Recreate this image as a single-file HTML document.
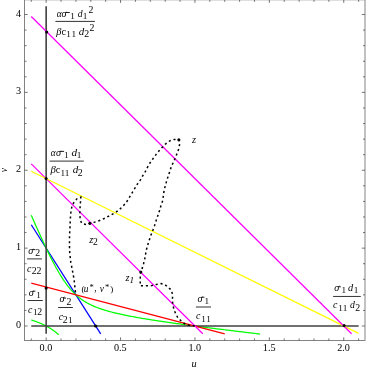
<!DOCTYPE html>
<html><head><meta charset="utf-8"><title>plot</title>
<style>html,body{margin:0;padding:0;background:#fff;}svg{display:block;will-change:transform;}text{font-family:"Liberation Serif",serif;fill:#000;}.i{font-style:italic;}</style></head><body>
<svg width="366" height="371" viewBox="0 0 366 371">
<rect x="0" y="0" width="366" height="371" fill="#fff"/>
<line x1="31.27" y1="224.77" x2="100.71" y2="333.79" stroke="#0000ff" stroke-width="1.25"/>
<polyline fill="none" stroke="#00ff00" stroke-width="1.25" points="31.27,215.22 32.41,217.84 33.56,220.45 34.70,223.05 35.84,225.64 36.99,228.21 38.13,230.76 39.27,233.30 40.42,235.82 41.56,238.32 42.71,240.80 43.85,243.26 44.99,245.69 46.14,248.10 47.28,250.48 48.42,252.83 49.57,255.15 50.71,257.43 51.85,259.68 53.00,261.89 54.14,264.06 55.28,266.19 56.43,268.27 57.57,270.30 58.71,272.28 59.86,274.21 61.00,276.08 62.15,277.89 63.29,279.64 64.43,281.34 65.58,282.97 66.72,284.53 67.86,286.03 69.01,287.47 70.15,288.85 71.29,290.16 72.44,291.41 73.58,292.60 74.72,293.74 75.87,294.81 77.01,295.84 78.15,296.81 79.30,297.73 80.44,298.60 81.59,299.44 82.73,300.23 83.87,300.98 85.02,301.69 86.16,302.37 87.30,303.02 88.45,303.64 89.59,304.23 90.73,304.79 91.88,305.33 93.02,305.85 94.16,306.34 95.31,306.82 96.45,307.28 97.59,307.72 98.74,308.14 99.88,308.55 101.03,308.95 102.17,309.33 103.31,309.70 104.46,310.06 105.60,310.40 106.74,310.74 107.89,311.07 109.03,311.39 110.17,311.70 111.32,312.00 112.46,312.30 113.60,312.59 114.75,312.87 115.89,313.15 117.03,313.42 118.18,313.68 119.32,313.94 120.47,314.19 121.61,314.44 122.75,314.69 123.90,314.93 125.04,315.16 126.18,315.40 127.33,315.63 128.47,315.85 129.61,316.07 130.76,316.29 131.90,316.51 133.04,316.72 134.19,316.93 135.33,317.14 136.47,317.35 137.62,317.55 138.76,317.75 139.91,317.95 141.05,318.14 142.19,318.34 143.34,318.53 144.48,318.72 145.62,318.91 146.77,319.10 147.91,319.28 149.05,319.46 150.20,319.65 151.34,319.83 152.48,320.01 153.63,320.19 154.77,320.36 155.91,320.54 157.06,320.71 158.20,320.88 159.35,321.06 160.49,321.23 161.63,321.40 162.78,321.57 163.92,321.73 165.06,321.90 166.21,322.07 167.35,322.23 168.49,322.39 169.64,322.56 170.78,322.72 171.92,322.88 173.07,323.04 174.21,323.20 175.35,323.36 176.50,323.52 177.64,323.68 178.79,323.84 179.93,323.99 181.07,324.15 182.22,324.30 183.36,324.46 184.50,324.61 185.65,324.77 186.79,324.92 187.93,325.07 189.08,325.23 190.22,325.38 191.36,325.53 192.51,325.68 193.65,325.83 194.79,325.98 195.94,326.13 197.08,326.28 198.23,326.43 199.37,326.57 200.51,326.72 201.66,326.87 202.80,327.02 203.94,327.16 205.09,327.31 206.23,327.46 207.37,327.60 208.52,327.75 209.66,327.89 210.80,328.04 211.95,328.18 213.09,328.33 214.23,328.47 215.38,328.61 216.52,328.76 217.67,328.90 218.81,329.04 219.95,329.18 221.10,329.33 222.24,329.47 223.38,329.61 224.53,329.75 225.67,329.89 226.81,330.03 227.96,330.17 229.10,330.32 230.24,330.46 231.39,330.60 232.53,330.74 233.67,330.88 234.82,331.01 235.96,331.15 237.11,331.29 238.25,331.43 239.39,331.57 240.54,331.71 241.68,331.85 242.82,331.99 243.97,332.12 245.11,332.26 246.25,332.40 247.40,332.54 248.54,332.67 249.68,332.81 250.83,332.95 251.97,333.09 253.11,333.22 254.26,333.36 255.40,333.50 256.55,333.63 257.69,333.77 258.83,333.90 259.98,334.04"/>
<polyline fill="none" stroke="#00ff00" stroke-width="1.25" points="31.27,319.98 31.41,320.02 31.54,320.07 31.68,320.11 31.82,320.15 31.95,320.20 32.09,320.24 32.23,320.29 32.37,320.33 32.50,320.38 32.64,320.42 32.78,320.47 32.91,320.51 33.05,320.56 33.19,320.60 33.32,320.65 33.46,320.69 33.60,320.74 33.73,320.79 33.87,320.83 34.01,320.88 34.14,320.93 34.28,320.97 34.42,321.02 34.56,321.07 34.69,321.12 34.83,321.16 34.97,321.21 35.10,321.26 35.24,321.31 35.38,321.36 35.51,321.41 35.65,321.46 35.79,321.51 35.92,321.55 36.06,321.60 36.20,321.65 36.34,321.70 36.47,321.75 36.61,321.81 36.75,321.86 36.88,321.91 37.02,321.96 37.16,322.01 37.29,322.06 37.43,322.11 37.57,322.17 37.70,322.22 37.84,322.27 37.98,322.32 38.11,322.38 38.25,322.43 38.39,322.48 38.53,322.54 38.66,322.59 38.80,322.65 38.94,322.70 39.07,322.76 39.21,322.81 39.35,322.87 39.48,322.92 39.62,322.98 39.76,323.03 39.89,323.09 40.03,323.15 40.17,323.21 40.31,323.26 40.44,323.32 40.58,323.38 40.72,323.44 40.85,323.49 40.99,323.55 41.13,323.61 41.26,323.67 41.40,323.73 41.54,323.79 41.67,323.85 41.81,323.91 41.95,323.97 42.08,324.03 42.22,324.09 42.36,324.16 42.50,324.22 42.63,324.28 42.77,324.34 42.91,324.41 43.04,324.47 43.18,324.53 43.32,324.60 43.45,324.66 43.59,324.73 43.73,324.79 43.86,324.86 44.00,324.92 44.14,324.99 44.28,325.05 44.41,325.12 44.55,325.19 44.69,325.26 44.82,325.32 44.96,325.39 45.10,325.46 45.23,325.53 45.37,325.60 45.51,325.67 45.64,325.74 45.78,325.81 45.92,325.88 46.05,325.95 46.19,326.02 46.33,326.09 46.47,326.17 46.60,326.24 46.74,326.31 46.88,326.39 47.01,326.46 47.15,326.53 47.29,326.61 47.42,326.68 47.56,326.76 47.70,326.84 47.83,326.91 47.97,326.99 48.11,327.07 48.25,327.14 48.38,327.22 48.52,327.30 48.66,327.38 48.79,327.46 48.93,327.54 49.07,327.62 49.20,327.70 49.34,327.78 49.48,327.87 49.61,327.95 49.75,328.03 49.89,328.12 50.02,328.20 50.16,328.28 50.30,328.37 50.44,328.45 50.57,328.54 50.71,328.63 50.85,328.71 50.98,328.80 51.12,328.89 51.26,328.98 51.39,329.07 51.53,329.16 51.67,329.25 51.80,329.34 51.94,329.43 52.08,329.52 52.22,329.61 52.35,329.71 52.49,329.80 52.63,329.89 52.76,329.99 52.90,330.08 53.04,330.18 53.17,330.28 53.31,330.37 53.45,330.47 53.58,330.57 53.72,330.67 53.86,330.77 53.99,330.87 54.13,330.97 54.27,331.07 54.41,331.17 54.54,331.27 54.68,331.38 54.82,331.48 54.95,331.59 55.09,331.69 55.23,331.80 55.36,331.90 55.50,332.01 55.64,332.12 55.77,332.23 55.91,332.34 56.05,332.45 56.19,332.56 56.32,332.67 56.46,332.78 56.60,332.89 56.73,333.01 56.87,333.12 57.01,333.23 57.14,333.35 57.28,333.47 57.42,333.58 57.55,333.70 57.69,333.82 57.83,333.94 57.96,334.06 58.10,334.18 58.24,334.30 58.38,334.42 58.51,334.54 58.65,334.67"/>
<line x1="46.15" y1="6.30" x2="46.15" y2="333.80" stroke="#404040" stroke-width="1.6"/>
<line x1="31.27" y1="326.00" x2="358.63" y2="326.00" stroke="#404040" stroke-width="1.6"/>
<line x1="31.27" y1="283.17" x2="224.71" y2="333.79" stroke="#ff0000" stroke-width="1.25"/>
<line x1="31.27" y1="163.85" x2="202.81" y2="333.79" stroke="#ff00ff" stroke-width="1.25"/>
<line x1="31.27" y1="171.22" x2="358.63" y2="333.37" stroke="#ffff00" stroke-width="1.25"/>
<line x1="31.27" y1="16.44" x2="351.61" y2="333.79" stroke="#ff00ff" stroke-width="1.25"/>
<polyline fill="none" stroke="#000" stroke-width="1.5" stroke-dasharray="2.1 2.85" points="194.8,325.7 190.3,325.6 185.5,324.4 181.8,321.4 178.2,318.3 175.8,314.1 173.9,309.2 172.7,304.4 172.5,300.2 172.5,294.7 171.5,290.2 168.0,287.2 165.0,284.7 161.1,283.6 156.2,284.5 151.9,285.6 146.0,285.8 140.3,285.8 140.2,280.0 140.3,276.0 140.8,272.0 142.3,268.1 143.6,263.5 144.7,259.0 145.5,254.6 146.4,249.8 147.7,244.9 149.3,240.1 150.9,235.2 152.8,230.4 154.6,225.5 156.1,220.7 157.8,215.8 159.6,210.3 161.0,205.5 162.7,200.7 163.4,195.5 164.1,190.5 165.3,185.7 166.7,180.9 168.2,176.1 169.8,171.4 171.4,166.2 173.5,162.1 175.2,158.0 177.2,153.2 178.9,148.4 179.7,143.7 178.9,139.8 174.2,139.4 170.1,140.7 166.2,143.4 162.5,147.1 159.1,150.8 156.0,154.6 153.0,158.7 149.8,163.2 147.3,167.6 145.0,172.1 142.5,176.2 140.3,180.1 137.2,184.3 134.8,188.4 132.1,192.9 129.4,197.3 126.7,201.8 123.2,205.9 119.6,209.4 115.7,212.4 111.6,214.7 107.2,217.0 102.8,219.2 98.3,221.0 93.9,222.4 90.0,223.3 85.9,224.5 81.8,223.4 80.2,219.6 79.9,214.8 79.9,209.9 80.2,205.1 80.6,200.6 80.8,197.2 77.2,198.6 74.2,201.8 72.1,205.9 71.0,210.7 70.5,216.4 70.2,222.1 70.0,227.0 69.7,232.1 69.5,237.1 69.5,242.2 69.5,247.2 69.7,252.3 70.2,257.3 70.8,262.4 71.8,267.4 72.8,272.5 73.8,277.9 74.6,283.6 75.0,288.6 75.8,294.6"/>
<circle cx="46.70" cy="32.00" r="1.55" fill="#000"/>
<circle cx="46.10" cy="178.50" r="1.55" fill="#000"/>
<circle cx="46.15" cy="288.10" r="1.55" fill="#000"/>
<circle cx="95.70" cy="326.00" r="1.55" fill="#000"/>
<circle cx="344.10" cy="325.60" r="1.55" fill="#000"/>
<circle cx="178.85" cy="139.80" r="1.55" fill="#000"/>
<circle cx="140.80" cy="272.00" r="1.55" fill="#000"/>
<circle cx="89.90" cy="223.35" r="1.55" fill="#000"/>
<rect x="24.55" y="-0.20" width="340.45" height="340.65" fill="none" stroke="#6e6e6e" stroke-width="0.85"/>
<path d="M31.27 340.45v-2.00M31.27 -0.20v2.00M46.15 340.45v-3.10M46.15 -0.20v3.10M61.03 340.45v-2.00M61.03 -0.20v2.00M75.91 340.45v-2.00M75.91 -0.20v2.00M90.79 340.45v-2.00M90.79 -0.20v2.00M105.67 340.45v-2.00M105.67 -0.20v2.00M120.55 340.45v-3.10M120.55 -0.20v3.10M135.43 340.45v-2.00M135.43 -0.20v2.00M150.31 340.45v-2.00M150.31 -0.20v2.00M165.19 340.45v-2.00M165.19 -0.20v2.00M180.07 340.45v-2.00M180.07 -0.20v2.00M194.95 340.45v-3.10M194.95 -0.20v3.10M209.83 340.45v-2.00M209.83 -0.20v2.00M224.71 340.45v-2.00M224.71 -0.20v2.00M239.59 340.45v-2.00M239.59 -0.20v2.00M254.47 340.45v-2.00M254.47 -0.20v2.00M269.35 340.45v-3.10M269.35 -0.20v3.10M284.23 340.45v-2.00M284.23 -0.20v2.00M299.11 340.45v-2.00M299.11 -0.20v2.00M313.99 340.45v-2.00M313.99 -0.20v2.00M328.87 340.45v-2.00M328.87 -0.20v2.00M343.75 340.45v-3.10M343.75 -0.20v3.10M358.63 340.45v-2.00M358.63 -0.20v2.00M24.55 326.00h3.10M365.00 326.00h-3.10M24.55 310.43h2.00M365.00 310.43h-2.00M24.55 294.85h2.00M365.00 294.85h-2.00M24.55 279.28h2.00M365.00 279.28h-2.00M24.55 263.70h2.00M365.00 263.70h-2.00M24.55 248.13h3.10M365.00 248.13h-3.10M24.55 232.56h2.00M365.00 232.56h-2.00M24.55 216.98h2.00M365.00 216.98h-2.00M24.55 201.41h2.00M365.00 201.41h-2.00M24.55 185.83h2.00M365.00 185.83h-2.00M24.55 170.26h3.10M365.00 170.26h-3.10M24.55 154.69h2.00M365.00 154.69h-2.00M24.55 139.11h2.00M365.00 139.11h-2.00M24.55 123.54h2.00M365.00 123.54h-2.00M24.55 107.96h2.00M365.00 107.96h-2.00M24.55 92.39h3.10M365.00 92.39h-3.10M24.55 76.82h2.00M365.00 76.82h-2.00M24.55 61.24h2.00M365.00 61.24h-2.00M24.55 45.67h2.00M365.00 45.67h-2.00M24.55 30.09h2.00M365.00 30.09h-2.00M24.55 14.52h3.10M365.00 14.52h-3.10" stroke="#484848" stroke-width="0.75" fill="none"/>
<text transform="translate(45.95,351.1) scale(1,1.07)" font-size="10.2" text-anchor="middle">0.0</text>
<text transform="translate(120.35,351.1) scale(1,1.07)" font-size="10.2" text-anchor="middle">0.5</text>
<text transform="translate(194.75,351.1) scale(1,1.07)" font-size="10.2" text-anchor="middle">1.0</text>
<text transform="translate(269.15,351.1) scale(1,1.07)" font-size="10.2" text-anchor="middle">1.5</text>
<text transform="translate(343.55,351.1) scale(1,1.07)" font-size="10.2" text-anchor="middle">2.0</text>
<text transform="translate(21.05,328.00) scale(1,1.08)" font-size="10.2" text-anchor="end">0</text>
<text transform="translate(21.05,250.13) scale(1,1.08)" font-size="10.2" text-anchor="end">1</text>
<text transform="translate(21.05,172.26) scale(1,1.08)" font-size="10.2" text-anchor="end">2</text>
<text transform="translate(21.05,94.39) scale(1,1.08)" font-size="10.2" text-anchor="end">3</text>
<text transform="translate(21.05,16.52) scale(1,1.08)" font-size="10.2" text-anchor="end">4</text>
<text x="194.1" y="367.0" font-size="10.3" class="i" text-anchor="middle">u</text>
<text transform="translate(7.1,170.0) rotate(-90)" font-size="9.6" class="i" text-anchor="middle">v</text>
<line x1="55.40" y1="21.40" x2="94.90" y2="21.40" stroke="#333" stroke-width="1"/>
<text transform="translate(56.83,16.80) scale(0.900,1)" font-size="10.20" class="i">α</text>
<text x="61.60" y="16.80" font-size="10.20" class="i">σ</text>
<line x1="65.50" y1="12.50" x2="69.80" y2="12.50" stroke="#111" stroke-width="0.95"/>
<text x="70.29" y="18.50" font-size="9.20">1</text>
<text transform="translate(77.71,16.80) scale(1.026,1)" font-size="9.50" class="i">d</text>
<text x="82.69" y="18.50" font-size="9.20">1</text>
<text x="88.47" y="12.80" font-size="9.80">2</text>
<text transform="translate(56.17,34.60) scale(1.044,1)" font-size="9.90" class="i">β</text>
<text transform="translate(61.50,34.60) scale(1.051,1)" font-size="9.90">c</text>
<text x="66.19" y="37.10" font-size="9.20">1</text>
<text x="71.39" y="37.10" font-size="9.20">1</text>
<text transform="translate(78.87,34.60) scale(1.090,1)" font-size="10.10" class="i">d</text>
<text x="84.37" y="37.10" font-size="9.80">2</text>
<text x="89.47" y="30.70" font-size="9.80">2</text>
<line x1="49.60" y1="161.10" x2="83.80" y2="161.10" stroke="#333" stroke-width="1"/>
<text transform="translate(50.83,155.70) scale(0.900,1)" font-size="10.20" class="i">α</text>
<text x="55.90" y="155.70" font-size="10.20" class="i">σ</text>
<line x1="59.80" y1="151.40" x2="64.10" y2="151.40" stroke="#111" stroke-width="0.95"/>
<text x="63.99" y="157.80" font-size="9.20">1</text>
<text transform="translate(71.46,155.70) scale(1.145,1)" font-size="9.80" class="i">d</text>
<text x="76.79" y="157.80" font-size="9.20">1</text>
<text transform="translate(50.47,173.00) scale(1.095,1)" font-size="9.80" class="i">β</text>
<text transform="translate(55.71,173.00) scale(1.024,1)" font-size="9.90">c</text>
<text x="60.49" y="175.70" font-size="9.20">1</text>
<text x="64.79" y="175.70" font-size="9.20">1</text>
<text transform="translate(72.77,173.00) scale(1.124,1)" font-size="9.80" class="i">d</text>
<text x="77.77" y="175.70" font-size="9.80">2</text>
<line x1="27.10" y1="258.90" x2="41.90" y2="258.90" stroke="#333" stroke-width="1"/>
<text x="28.30" y="253.90" font-size="10.20" class="i">σ</text>
<line x1="32.20" y1="249.60" x2="35.30" y2="249.60" stroke="#111" stroke-width="0.95"/>
<text x="35.37" y="256.30" font-size="9.80">2</text>
<text x="26.90" y="271.80" font-size="9.90" class="i">c</text>
<text x="31.87" y="273.80" font-size="9.80">2</text>
<text x="36.47" y="273.80" font-size="9.80">2</text>
<line x1="27.50" y1="300.50" x2="42.80" y2="300.50" stroke="#333" stroke-width="1"/>
<text x="28.80" y="295.50" font-size="10.20" class="i">σ</text>
<line x1="32.70" y1="291.20" x2="35.40" y2="291.20" stroke="#111" stroke-width="0.95"/>
<text x="36.19" y="297.60" font-size="9.20">1</text>
<text x="28.00" y="312.60" font-size="9.90" class="i">c</text>
<text x="33.09" y="314.60" font-size="9.20">1</text>
<text x="37.17" y="314.60" font-size="9.80">2</text>
<line x1="58.10" y1="307.50" x2="72.90" y2="307.50" stroke="#333" stroke-width="1"/>
<text x="59.50" y="302.40" font-size="10.20" class="i">σ</text>
<line x1="63.40" y1="298.10" x2="66.10" y2="298.10" stroke="#111" stroke-width="0.95"/>
<text x="66.47" y="304.70" font-size="9.80">2</text>
<text x="58.70" y="320.20" font-size="9.90" class="i">c</text>
<text x="62.87" y="322.80" font-size="9.80">2</text>
<text x="68.09" y="322.80" font-size="9.20">1</text>
<line x1="195.90" y1="307.00" x2="211.00" y2="307.00" stroke="#333" stroke-width="1"/>
<text x="197.50" y="301.50" font-size="10.20" class="i">σ</text>
<line x1="201.40" y1="297.20" x2="204.40" y2="297.20" stroke="#111" stroke-width="0.95"/>
<text x="204.49" y="304.30" font-size="9.20">1</text>
<text x="195.90" y="318.90" font-size="9.90" class="i">c</text>
<text x="201.29" y="321.50" font-size="9.20">1</text>
<text x="206.19" y="321.50" font-size="9.20">1</text>
<line x1="333.10" y1="296.45" x2="360.80" y2="296.45" stroke="#333" stroke-width="1"/>
<text x="334.30" y="291.10" font-size="10.20" class="i">σ</text>
<line x1="338.20" y1="286.80" x2="340.80" y2="286.80" stroke="#111" stroke-width="0.95"/>
<text x="341.39" y="293.30" font-size="9.20">1</text>
<text transform="translate(348.09,291.10) scale(1.092,1)" font-size="9.50" class="i">d</text>
<text x="353.79" y="293.30" font-size="9.20">1</text>
<text x="333.00" y="308.30" font-size="9.90" class="i">c</text>
<text x="338.19" y="310.80" font-size="9.20">1</text>
<text x="342.79" y="310.80" font-size="9.20">1</text>
<text transform="translate(350.01,308.30) scale(1.026,1)" font-size="9.50" class="i">d</text>
<text x="355.17" y="310.80" font-size="9.80">2</text>
<text x="192.02" y="143.30" font-size="10.30" class="i">z</text>
<text x="125.52" y="280.70" font-size="10.30" class="i">z</text>
<text x="129.47" y="283.30" font-size="9.20" class="i">1</text>
<text x="89.22" y="243.10" font-size="10.30" class="i">z</text>
<text x="93.08" y="245.10" font-size="9.60">2</text>
<text x="81.40" y="291.60" font-size="9.00">(</text>
<text x="83.63" y="291.50" font-size="9.40" class="i">u</text>
<text x="89.38" y="289.60" font-size="8.60">*</text>
<text x="94.23" y="291.40" font-size="9.60">,</text>
<text x="99.87" y="291.50" font-size="9.40" class="i">v</text>
<text x="104.98" y="289.60" font-size="8.60">*</text>
<text x="110.31" y="291.60" font-size="9.00">)</text>
</svg></body></html>
